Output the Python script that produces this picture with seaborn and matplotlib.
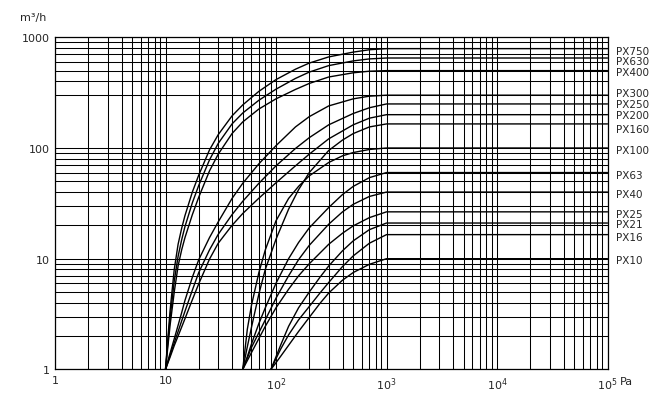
import numpy as np
import pandas as pd
import seaborn as sns
import matplotlib
matplotlib.use('Agg')
import matplotlib.pyplot as plt
from matplotlib.ticker import FixedLocator, NullLocator, NullFormatter


# pressure points (Pa) where the curves were read, one list per start pressure
pa_10 = [10, 10.5, 11, 12, 13, 14, 15, 17.5, 20, 25, 30, 40, 50, 70, 100, 150, 200, 300,
         500, 700, 1000, 100000]
pa_50 = [50, 55, 60, 70, 80, 100, 130, 160, 200, 300, 400, 500, 700, 1000, 100000]
pa_90 = [90, 100, 110, 130, 160, 200, 250, 300, 400, 500, 700, 1000, 100000]

# flow (m3/h)
px750 = [1, 1.9, 3.4, 8.0, 13.5, 18.8, 24.5, 40, 57, 96, 132, 195, 245, 325, 415, 515, 585,
         665, 735, 772, 790, 790]
px630 = [1, 1.75, 2.9, 6.3, 10.5, 14.8, 19.5, 32, 46, 78, 110, 165, 207, 270, 340, 425, 485,
         555, 612, 638, 650, 650]
px400 = [1, 1.6, 2.5, 5.0, 8.6, 12, 15.5, 25, 36, 62, 88, 135, 172, 225, 278, 338, 383,
         438, 478, 494, 500, 500]
px300 = [1, 1.19, 1.4, 1.89, 2.5, 3.25, 4.2, 6.8, 9.8, 15.5, 21.5, 35, 48, 72, 105, 155, 192,
         240, 278, 294, 300, 300]
px250 = [1, 1.16, 1.34, 1.74, 2.2, 2.74, 3.35, 5.2, 7.5, 12, 16.6, 25, 33, 48, 69, 99, 124,
         162, 205, 231, 250, 250]
px200 = [1, 1.14, 1.29, 1.64, 2.0, 2.41, 2.87, 4.26, 5.94, 9.9, 13.8, 20, 25.6, 35.2, 48.5, 69,
         88, 121, 162, 186, 200, 200]

px160 = [1, 1.6, 2.4, 4.8, 8, 15, 28, 42, 60, 95, 118, 135, 155, 165, 165]
px100 = [1, 2.3, 3.8, 7.5, 12, 22, 35, 45, 56, 74, 85, 91, 97, 100, 100]
px63 = [1, 1.3, 1.7, 2.6, 3.6, 6, 10, 14, 19, 29, 38, 45, 54, 60, 60]
px40 = [1, 1.27, 1.58, 2.15, 2.8, 4.4, 7, 9.8, 13.2, 20.5, 26.5, 31, 36.5, 40, 40]
px25 = [1, 1.2, 1.42, 1.9, 2.45, 3.6, 5.3, 7.0, 9.0, 13.5, 17, 19.8, 23.5, 26.5, 26.5]

px21 = [1, 1.3, 1.65, 2.45, 3.6, 5.0, 6.8, 8.6, 11.8, 14.5, 18.3, 21, 21]
px16 = [1, 1.25, 1.52, 2.05, 2.8, 3.7, 4.9, 6.1, 8.5, 10.6, 13.8, 16.5, 16.5]
px10 = [1, 1.15, 1.31, 1.65, 2.2, 2.95, 3.95, 4.9, 6.4, 7.5, 8.9, 10, 10]

models = ['PX750', 'PX630', 'PX400', 'PX300', 'PX250', 'PX200', 'PX160',
          'PX100', 'PX63', 'PX40', 'PX25', 'PX21', 'PX16', 'PX10']
label_at = [770, 625, 500, 320, 255, 203, 152, 98, 58, 39, 26, 21, 16, 10]

x_ticks = [1, 10, 100, 1000, 10000, 100000]
x_tick_labels = ['1', '10', '$10^2$', '$10^3$', '$10^4$', '$10^5$']
y_ticks = [1, 10, 100, 1000]
y_tick_labels = ['1', '10', '100', '1000']

curves = [
    (pa_10, px750), (pa_10, px630), (pa_10, px400), (pa_10, px300),
    (pa_10, px250), (pa_10, px200), (pa_50, px160), (pa_50, px100),
    (pa_50, px63), (pa_50, px40), (pa_50, px25), (pa_90, px21),
    (pa_90, px16), (pa_90, px10),
]

df = pd.concat([pd.DataFrame({'pa': pa, 'flow': q, 'model': name})
                for name, (pa, q) in zip(models, curves)], ignore_index=True)

sns.set_style('white')
plt.rcParams['font.family'] = ['DejaVu Sans']

fig = plt.figure(figsize=(6.72, 4.14), dpi=100)
ax = fig.add_axes([55 / 672, 43.6 / 414, 552.5 / 672, 332.1 / 414])

ax.set_xscale('log')
ax.set_yscale('log')

# grid: every 1..9 step per decade (no 200 line in the top decade)
minor_x = [k * 10 ** n for n in range(5) for k in range(2, 10)]
minor_y = [k * 10 ** n for n in range(3) for k in range(2, 10) if k * 10 ** n != 200]
ax.xaxis.set_major_locator(FixedLocator(x_ticks))
ax.xaxis.set_minor_locator(FixedLocator(minor_x))
ax.yaxis.set_major_locator(FixedLocator(y_ticks))
ax.yaxis.set_minor_locator(FixedLocator(minor_y))
ax.xaxis.set_minor_formatter(NullFormatter())
ax.yaxis.set_minor_formatter(NullFormatter())
ax.grid(which='both', color='black', lw=0.75)
ax.set_axisbelow(True)

sns.lineplot(data=df, x='pa', y='flow', units='model', estimator=None, sort=False,
             color='black', lw=1.0, ax=ax, legend=False)

ax.set_xlim(1, 100000)
ax.set_ylim(1, 1000)
ax.set_xticklabels(x_tick_labels, fontsize=8)
ax.set_yticklabels(y_tick_labels, fontsize=8)
ax.tick_params(which='both', length=0)
ax.tick_params(axis='x', pad=4)
ax.tick_params(axis='y', pad=4)
ax.set_xlabel('')
ax.set_ylabel('')
for s in ax.spines.values():
    s.set_color('black')
    s.set_linewidth(0.9)

# pump model names on the right
ax2 = ax.twinx()
ax2.set_yscale('log')
ax2.set_ylim(1, 1000)
ax2.yaxis.set_major_locator(FixedLocator(label_at))
ax2.yaxis.set_minor_locator(NullLocator())
ax2.set_yticklabels(models, fontsize=7.5)
ax2.tick_params(which='both', length=0, pad=6)
ax2.grid(False)
for s in ax2.spines.values():
    s.set_visible(False)

fig.text(620 / 672, 1 - 382 / 414, 'Pa', fontsize=8, va='center', ha='left')
fig.text(20 / 672, 1 - 18 / 414, 'm³/h', fontsize=8, va='center', ha='left')

fig.savefig('out.png', dpi=100)
